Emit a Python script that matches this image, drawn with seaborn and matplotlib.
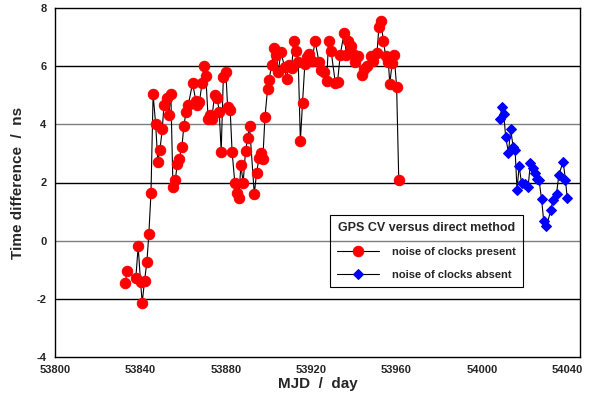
import numpy as np
import pandas as pd
import matplotlib
matplotlib.use("Agg")
import matplotlib.pyplot as plt
from matplotlib.ticker import MultipleLocator
import seaborn as sns

# ---------------------------------------------------------------------------
# Data
# ---------------------------------------------------------------------------

present_mjd = [
    53832.8, 53833.9, 53837.9, 53839.0, 53840.1, 53840.9, 53842.0, 53843.1,
    53844.0, 53845.0, 53846.0, 53847.2, 53848.2, 53849.2, 53850.3, 53851.1,
    53852.5, 53853.3, 53854.3, 53855.3, 53856.4, 53857.3, 53858.2, 53859.5,
    53860.4, 53861.4, 53862.5, 53864.5, 53866.0, 53866.7, 53867.7, 53868.9,
    53869.8, 53870.7, 53871.8, 53872.8, 53873.5, 53874.8, 53876.0, 53877.0,
    53877.9, 53878.9, 53880.1, 53880.9, 53882.1, 53883.0, 53884.3, 53885.1,
    53886.2, 53887.1, 53888.2, 53889.3, 53890.3, 53891.2, 53893.4, 53894.5,
    53895.6, 53896.5, 53897.4, 53898.4, 53899.6, 53900.4, 53901.5, 53902.7,
    53903.8, 53904.6, 53905.9, 53907.6, 53908.5, 53909.7, 53910.9, 53911.9,
    53912.9, 53914.0, 53915.0, 53916.0, 53917.1, 53918.2, 53919.1, 53920.4,
    53921.9, 53923.7, 53924.8, 53926.0, 53927.3, 53928.2, 53929.4, 53931.4,
    53932.4, 53933.7, 53935.5, 53936.6, 53937.4, 53938.5, 53939.7, 53940.8,
    53941.9, 53943.7, 53944.8, 53946.0, 53947.9, 53949.0, 53950.9, 53951.8,
    53952.6, 53953.9, 53954.9, 53956.2, 53956.9, 53958.0, 53958.9, 53960.1,
    53961.1,
]
present_ns = [
    -1.47, -1.06, -1.29, -0.20, -1.41, -2.13, -1.37, -0.72,
    0.23, 1.63, 5.03, 4.00, 2.72, 3.13, 3.84, 4.68,
    4.92, 4.32, 5.06, 1.86, 2.08, 2.63, 2.82, 3.23,
    3.94, 4.42, 4.67, 5.42, 4.81, 4.66, 4.76, 5.41,
    5.99, 5.65, 4.17, 4.32, 4.18, 5.02, 4.92, 4.42,
    3.06, 5.63, 5.79, 4.60, 4.51, 3.06, 1.98, 1.65,
    1.48, 2.60, 2.00, 3.09, 3.52, 3.94, 1.61, 2.34,
    2.83, 3.02, 2.80, 4.24, 5.20, 5.54, 6.05, 6.63,
    6.40, 5.80, 6.48, 5.97, 5.57, 6.05, 5.95, 6.86,
    6.52, 6.16, 3.43, 4.73, 6.09, 6.31, 6.43, 6.18,
    6.86, 6.15, 5.87, 5.79, 5.48, 6.85, 6.52, 5.41,
    5.46, 6.40, 7.15, 6.37, 6.88, 6.68, 6.43, 6.16,
    6.35, 5.70, 5.91, 5.99, 6.34, 6.18, 6.46, 7.35,
    7.57, 6.88, 6.36, 6.14, 5.40, 6.11, 6.40, 5.28,
    2.07,
]

absent_mjd = [
    54008.4, 54009.4, 54010.3, 54011.2, 54012.5, 54013.5, 54014.7, 54015.6,
    54016.5, 54017.5, 54018.6, 54020.1, 54021.7, 54022.8, 54023.8, 54024.8,
    54025.9, 54026.8, 54028.0, 54029.0, 54030.3, 54032.3, 54033.4, 54035.0,
    54036.1, 54038.1, 54039.2, 54040.0,
]
absent_ns = [
    4.17, 4.58, 4.34, 3.55, 3.02, 3.85, 3.21, 3.12,
    1.75, 2.57, 1.98, 1.94, 1.86, 2.68, 2.49, 2.32,
    2.11, 2.09, 1.43, 0.68, 0.49, 1.04, 1.40, 1.61,
    2.26, 2.72, 2.09, 1.48,
]

df_present = pd.DataFrame({"mjd": present_mjd, "ns": present_ns})
df_absent = pd.DataFrame({"mjd": absent_mjd, "ns": absent_ns})

# ---------------------------------------------------------------------------
# Plot
# ---------------------------------------------------------------------------

sns.set_style("white")
plt.rcParams["font.family"] = ["Liberation Sans", "DejaVu Sans"]
plt.rcParams["font.weight"] = "bold"
plt.rcParams["axes.unicode_minus"] = False

fig = plt.figure(figsize=(5.97, 4.0), dpi=100)
ax = fig.add_axes([0.092, 0.1075, 0.8795, 0.8725])

sns.lineplot(data=df_present, x="mjd", y="ns", ax=ax, color="black",
             linewidth=0.8, marker="o", markersize=7.5,
             markerfacecolor="#ff0000", markeredgecolor="#ff0000",
             label="noise of clocks present", sort=False, zorder=3)
sns.lineplot(data=df_absent, x="mjd", y="ns", ax=ax, color="black",
             linewidth=0.8, marker="D", markersize=5.5,
             markerfacecolor="#0000ff", markeredgecolor="#0000ff",
             label="noise of clocks absent", sort=False, zorder=3)

ax.set_xlim(53800, 54046)
ax.set_ylim(-4, 8)

ax.xaxis.set_major_locator(MultipleLocator(40))
ax.xaxis.set_minor_locator(MultipleLocator(10))
ax.yaxis.set_major_locator(MultipleLocator(2))
ax.yaxis.set_minor_locator(MultipleLocator(0.5))
ax.tick_params(axis="both", which="both", direction="in",
               top=False, right=False, labelsize=8, width=0.8, color="black")
ax.tick_params(axis="both", which="major", length=7, pad=6)
ax.tick_params(axis="both", which="minor", length=7)
for lab in ax.get_xticklabels() + ax.get_yticklabels():
    lab.set_fontweight("bold")

# horizontal grid lines: black at 6, 2, -2 and grey at 4, 0
for v in [6, 4, 2, 0, -2]:
    ax.axhline(v, color="#7f7f7f" if v % 4 == 0 else "black",
               linewidth=1.0, zorder=1)

for sp in ax.spines.values():
    sp.set_color("black")
    sp.set_linewidth(1.0)

ax.set_xlabel("MJD  /  day", fontsize=11, fontweight="bold", labelpad=1)
ax.set_ylabel("Time difference  /  ns", fontsize=11, fontweight="bold",
              labelpad=8)

leg = ax.legend(title="GPS CV versus direct method", loc="upper left",
                bbox_to_anchor=(0.524, 0.407), borderaxespad=0,
                frameon=True, fancybox=False, edgecolor="black",
                handlelength=3.8, fontsize=8, title_fontsize=9,
                borderpad=0.6, labelspacing=1.2, handletextpad=1.2)
leg.get_title().set_fontweight("bold")
frame = leg.get_frame()
frame.set_facecolor("none")
frame.set_edgecolor("black")
frame.set_alpha(None)
frame.set_linewidth(0.8)
for t in leg.get_texts():
    t.set_fontweight("bold")

fig.savefig("out.png", dpi=100)
